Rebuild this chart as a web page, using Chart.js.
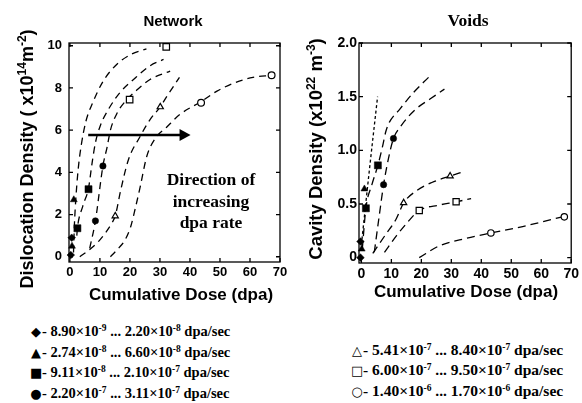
<!DOCTYPE html>
<html>
<head>
<meta charset="utf-8">
<script src="https://cdn.jsdelivr.net/npm/chart.js@4.4.1/dist/chart.umd.min.js"></script>
<style>
html,body{margin:0;padding:0;background:#fff;}
body{width:582px;height:403px;overflow:hidden;position:relative;}
.abs{position:absolute;white-space:nowrap;color:#000;}
.sans{font-family:"Liberation Sans",Arial,sans-serif;font-weight:bold;}
.serif{font-family:"Liberation Serif","Times New Roman",serif;font-weight:bold;}
.sup{font-size:12px;position:relative;top:-7px;}
.lsup{font-size:9.5px;position:relative;top:-5px;}
.mk{font-family:"DejaVu Sans",sans-serif;font-weight:normal;font-size:13px;display:inline-block;width:12px;text-align:center;}
canvas{position:absolute;}
</style>
</head>
<body>
<canvas id="net" width="300" height="285" style="left:0;top:0;"></canvas>
<canvas id="voids" width="292" height="285" style="left:290px;top:0;"></canvas>

<div class="abs sans" style="left:123px;top:13px;width:100px;text-align:center;font-size:15px;line-height:15px;">Network</div>
<div class="abs serif" style="left:418px;top:11px;width:100px;text-align:center;font-size:17.5px;line-height:18px;">Voids</div>

<div class="abs sans" style="left:-122px;top:148px;width:300px;text-align:center;font-size:18px;line-height:20px;transform:rotate(-90deg);">Dislocation Density ( x10<span class="sup">14</span>m<span class="sup">-2</span>)</div>
<div class="abs sans" style="left:167px;top:138px;width:300px;text-align:center;font-size:18.5px;line-height:20px;transform:rotate(-90deg);">Cavity Density (x10<span class="sup">22</span> m<span class="sup">-3</span>)</div>

<div class="abs sans" style="left:31px;top:285px;width:300px;text-align:center;font-size:17px;line-height:20px;">Cumulative Dose (dpa)</div>
<div class="abs sans" style="left:316px;top:282px;width:300px;text-align:center;font-size:17px;line-height:20px;">Cumulative Dose (dpa)</div>

<div class="abs serif" style="left:146px;top:169px;width:130px;text-align:center;font-size:17.5px;line-height:21.5px;">Direction of<br>increasing<br>dpa rate</div>

<div class="abs serif" style="left:30px;top:322px;font-size:14.5px;line-height:18.7px;">
<span class="mk">◆</span>- 8.90×10<span class="lsup">-9</span> ... 2.20×10<span class="lsup">-8</span> dpa/sec<br>
<span class="mk">▲</span>- 2.74×10<span class="lsup">-8</span> ... 6.60×10<span class="lsup">-8</span> dpa/sec<br>
<span class="mk">■</span>- 9.11×10<span class="lsup">-8</span> ... 2.10×10<span class="lsup">-7</span> dpa/sec<br>
<span class="mk">●</span>- 2.20×10<span class="lsup">-7</span> ... 3.11×10<span class="lsup">-7</span> dpa/sec
</div>
<div class="abs serif" style="left:351px;top:340.7px;font-size:15.5px;line-height:18.7px;">
<span class="mk">△</span>- 5.41×10<span class="lsup">-7</span> ... 8.40×10<span class="lsup">-7</span> dpa/sec<br>
<span class="mk">□</span>- 6.00×10<span class="lsup">-7</span> ... 9.50×10<span class="lsup">-7</span> dpa/sec<br>
<span class="mk">○</span>- 1.40×10<span class="lsup">-6</span> ... 1.70×10<span class="lsup">-6</span> dpa/sec
</div>

<script>
// ---------- tick labels ----------
const X_TICKS = [0, 10, 20, 30, 40, 50, 60, 70];
const NET_Y_TICKS = [0, 2, 4, 6, 8, 10];
const VOID_Y_TICKS = [0, 0.5, 1.0, 1.5, 2.0];

// ---------- Network: measured points [dose dpa, density x1e14 m^-2] ----------
const netDiamond      = [[0.3, 0.08], [0.6, 0.9]];
const netTriangle     = [[0.7, 0.5], [1.3, 2.7]];
const netSquare       = [[2.5, 1.35], [6.2, 3.2]];
const netCircle       = [[8.5, 1.7], [11.0, 4.3]];
const netOpenTriangle = [[15.1, 1.93], [30.1, 7.1]];
const netOpenSquare   = [[19.9, 7.45], [32.1, 9.95]];
const netOpenCircle   = [[43.7, 7.3], [67.2, 8.6]];

// ---------- Network: dashed fit curves ----------
const netFit1 = [[1.2, 0.2], [1.5, 1.5], [2.0, 2.8], [2.8, 4.2], [3.8, 5.3], [5.3, 6.4], [7.6, 7.3], [11.0, 8.3], [15.5, 9.1], [20.5, 9.6], [25.5, 9.85]];
const netFit2 = [[2.3, 1.0], [2.5, 1.35], [4.3, 2.4], [6.2, 3.25], [7.4, 4.45], [8.5, 5.4], [10.1, 6.2], [12.9, 7.0], [16.8, 7.8], [21.2, 8.4], [26.7, 9.05], [31.2, 9.35]];
const netFit3 = [[6.6, 0.4], [8.5, 1.7], [11.0, 4.3], [12.4, 5.2], [13.5, 6.0], [15.7, 6.8], [19.0, 7.45], [22.3, 7.9], [26.7, 8.4], [33.4, 8.8]];
const netFit4 = [[3.3, 0.0], [7.1, 0.4], [10.0, 0.8], [12.2, 1.2], [14.0, 1.6], [15.1, 1.93], [17.0, 3.2], [19.5, 4.6], [23.4, 5.7], [26.7, 6.5], [30.1, 7.1], [32.3, 7.6], [36.5, 8.5]];
const netFit5 = [[13.5, 0.0], [16.2, 0.4], [18.4, 0.8], [20.2, 1.4], [21.8, 2.3], [23.4, 3.3], [25.6, 4.75], [28.4, 5.6], [32.3, 6.15], [36.7, 6.75], [43.7, 7.35], [49.0, 7.85], [55.0, 8.25], [61.0, 8.5], [67.2, 8.6]];

// ---------- Voids: measured points [dose dpa, cavity density x1e22 m^-3] ----------
const voidDiamond      = [[-0.3, 0.0], [-0.3, 0.15]];
const voidTriangle     = [[0.1, 0.08], [1.0, 0.64]];
const voidSquare       = [[1.5, 0.46], [5.5, 0.86]];
const voidCircle       = [[7.4, 0.68], [10.7, 1.11]];
const voidOpenTriangle = [[14.1, 0.51], [29.6, 0.76]];
const voidOpenSquare   = [[19.3, 0.44], [31.6, 0.52]];
const voidOpenCircle   = [[43.2, 0.23], [67.7, 0.38]];

// ---------- Voids: fit curves ----------
const voidFitDotted   = [[0.0, 0.12], [2.6, 0.8], [5.4, 1.5]];
const voidFitSquare   = [[0.3, 0.08], [1.5, 0.46], [3.5, 0.68], [5.5, 0.86], [7.0, 1.03], [8.2, 1.18], [9.3, 1.26], [12.7, 1.38], [17.1, 1.53], [22.4, 1.68]];
const voidFitCircle   = [[4.3, 0.05], [6.0, 0.4], [7.4, 0.68], [9.0, 0.92], [10.7, 1.11], [13.0, 1.22], [18.0, 1.38], [23.0, 1.48], [27.7, 1.57]];
const voidFitOpenTri  = [[3.8, 0.04], [8.2, 0.22], [11.6, 0.36], [14.1, 0.51], [18.2, 0.62], [23.5, 0.7], [29.6, 0.76], [34.0, 0.8]];
const voidFitOpenSq   = [[7.7, 0.05], [11.6, 0.2], [15.4, 0.33], [19.3, 0.44], [26.0, 0.49], [31.6, 0.52], [36.6, 0.55]];
const voidFitOpenCirc = [[19.3, 0.0], [26.0, 0.11], [35.0, 0.18], [43.2, 0.23], [53.8, 0.29], [68.5, 0.39]];

// ---------- annotation ----------
const ARROW_FROM = [6.1, 5.77];
const ARROW_TO   = [40.2, 5.77];

const SANS = '"Liberation Sans", Arial, sans-serif';
const toXY = arr => arr.map(([x, y]) => ({x, y}));

function markers(data, style, filled, r) {
  return {
    data: toXY(data), showLine: false, order: 0, clip: false,
    pointStyle: style, pointRadius: r, pointHoverRadius: r,
    pointBackgroundColor: filled ? '#000' : '#fff',
    pointBorderColor: '#000', pointBorderWidth: filled ? 0.5 : 1.2
  };
}
function curve(data, dash) {
  return {
    data: toXY(data), showLine: true, order: 1, clip: false,
    pointRadius: 0, pointHoverRadius: 0,
    borderColor: '#000', borderWidth: 1.3, borderDash: dash,
    cubicInterpolationMode: 'monotone', fill: false
  };
}

const framePlugin = {
  id: 'frame',
  beforeDatasetsDraw(chart) {
    const {ctx, chartArea: a, scales: {x, y}} = chart;
    ctx.save();
    ctx.strokeStyle = '#000';
    ctx.lineWidth = 1.3;
    ctx.strokeRect(a.left, a.top, a.right - a.left, a.bottom - a.top);
    const L = 4;
    ctx.beginPath();
    x.ticks.forEach(t => {
      const px = x.getPixelForValue(t.value);
      ctx.moveTo(px, a.bottom); ctx.lineTo(px, a.bottom - L);
      ctx.moveTo(px, a.top); ctx.lineTo(px, a.top + L);
    });
    y.ticks.forEach(t => {
      const py = y.getPixelForValue(t.value);
      ctx.moveTo(a.left, py); ctx.lineTo(a.left + L, py);
      ctx.moveTo(a.right, py); ctx.lineTo(a.right - L, py);
    });
    ctx.stroke();
    ctx.restore();
  }
};

const arrowPlugin = {
  id: 'arrow',
  afterDatasetsDraw(chart) {
    const {ctx, scales: {x, y}} = chart;
    const x0 = x.getPixelForValue(ARROW_FROM[0]), y0 = y.getPixelForValue(ARROW_FROM[1]);
    const x1 = x.getPixelForValue(ARROW_TO[0]),   y1 = y.getPixelForValue(ARROW_TO[1]);
    ctx.save();
    ctx.strokeStyle = '#000'; ctx.fillStyle = '#000';
    ctx.lineWidth = 2.6;
    ctx.beginPath(); ctx.moveTo(x0, y0); ctx.lineTo(x1 - 8, y1); ctx.stroke();
    ctx.beginPath(); ctx.moveTo(x1, y1); ctx.lineTo(x1 - 11, y1 - 6); ctx.lineTo(x1 - 11, y1 + 6); ctx.closePath(); ctx.fill();
    ctx.restore();
  }
};

function axes(xMin, yMin, yMax, yTicks, yFmt, yWidth, xHeight, fontSize, yPad) {
  const font = {family: SANS, weight: 'bold', size: fontSize};
  return {
    x: {
      type: 'linear', min: xMin, max: 70,
      afterBuildTicks: s => { s.ticks = X_TICKS.map(v => ({value: v})); },
      afterFit: s => { s.height = xHeight; },
      grid: {display: false, drawTicks: false}, border: {display: false},
      ticks: {font, color: '#000', padding: 3, maxRotation: 0, autoSkip: false}
    },
    y: {
      type: 'linear', min: yMin, max: yMax,
      afterBuildTicks: s => { s.ticks = yTicks.map(v => ({value: v})); },
      afterFit: s => { s.width = yWidth; },
      grid: {display: false, drawTicks: false}, border: {display: false},
      ticks: {font, color: '#000', padding: yPad, autoSkip: false, callback: yFmt}
    }
  };
}

const common = {
  responsive: false, animation: false, devicePixelRatio: 1,
  plugins: {legend: {display: false}, tooltip: {enabled: false}}
};

new Chart(document.getElementById('net'), {
  type: 'scatter',
  data: {datasets: [
    markers(netDiamond, 'rectRot', true, 3.8),
    markers(netTriangle, 'triangle', true, 4),
    markers(netSquare, 'rect', true, 5),
    markers(netCircle, 'circle', true, 3.2),
    markers(netOpenTriangle, 'triangle', false, 3.6),
    markers(netOpenSquare, 'rect', false, 4.6),
    markers(netOpenCircle, 'circle', false, 3.4),
    curve(netFit1, [7, 5]), curve(netFit2, [7, 5]), curve(netFit3, [7, 5]),
    curve(netFit4, [7, 5]), curve(netFit5, [7, 5])
  ]},
  options: Object.assign({}, common, {
    layout: {padding: {left: 0, top: 43, right: 20, bottom: 0}},
    scales: axes(-0.3, -0.25, 10.13, NET_Y_TICKS, v => String(v), 69, 23, 13, 7)
  }),
  plugins: [framePlugin, arrowPlugin]
});

new Chart(document.getElementById('voids'), {
  type: 'scatter',
  data: {datasets: [
    markers(voidDiamond, 'rectRot', true, 3.8),
    markers(voidTriangle, 'triangle', true, 4),
    markers(voidSquare, 'rect', true, 5),
    markers(voidCircle, 'circle', true, 3.2),
    markers(voidOpenTriangle, 'triangle', false, 3.6),
    markers(voidOpenSquare, 'rect', false, 4.4),
    markers(voidOpenCircle, 'circle', false, 3.2),
    curve(voidFitDotted, [3, 2.5]),
    curve(voidFitSquare, [8, 5]), curve(voidFitCircle, [8, 5]),
    curve(voidFitOpenTri, [8, 5]), curve(voidFitOpenSq, [8, 5]), curve(voidFitOpenCirc, [8, 5])
  ]},
  options: Object.assign({}, common, {
    layout: {padding: {left: 0, top: 43, right: 9, bottom: 0}},
    scales: axes(-0.8, -0.05, 2.0, VOID_Y_TICKS, v => (v === 0 ? '0' : v.toFixed(1)), 69, 22, 14, 2)
  }),
  plugins: [framePlugin]
});
</script>
</body>
</html>
